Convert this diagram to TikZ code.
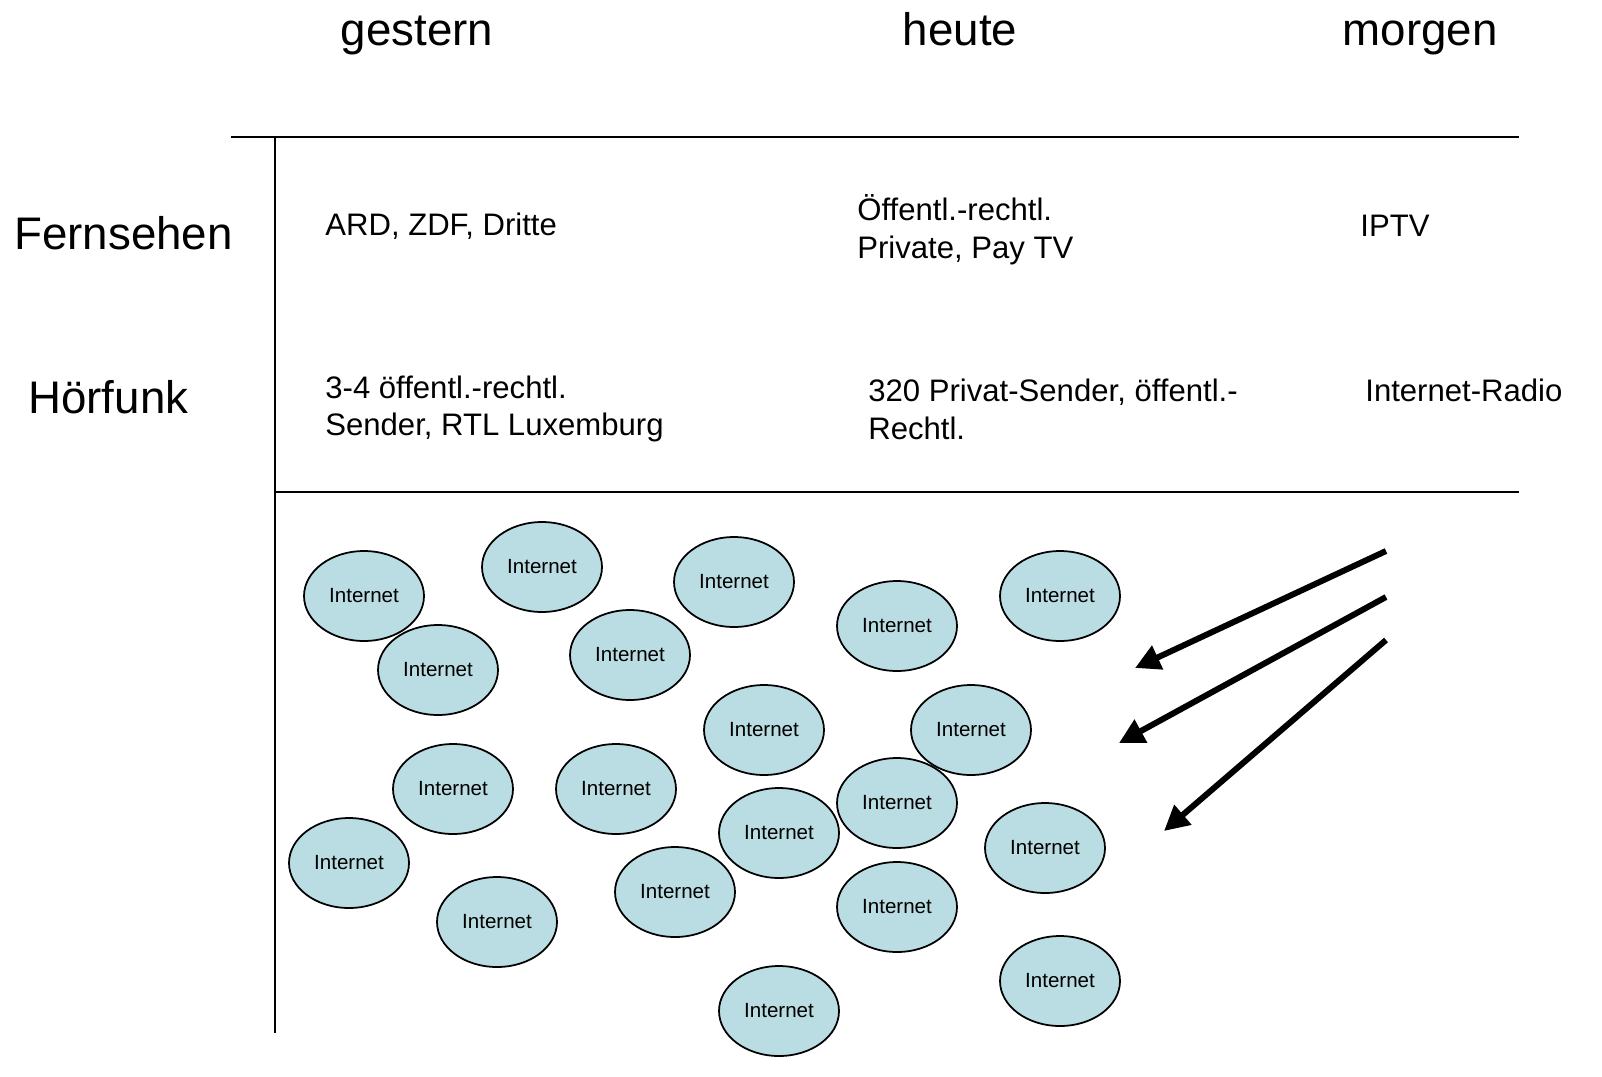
\documentclass[tikz,border=0pt]{standalone}
\usepackage{fontspec}
\setmainfont{Liberation Sans}
\usetikzlibrary{shapes.geometric, arrows.meta, positioning}
\definecolor{netblue}{HTML}{BADDE3}

\begin{document}
\begin{tikzpicture}[ x=0.02cm, y=-0.02cm, net/.style={ellipse, draw=black,
      fill=netblue, line width=1pt, minimum width=2.4cm, minimum height=1.8cm,
      inner sep=0pt, font=\fontsize{11.7pt}{14pt}\selectfont},
      head/.style={font=\fontsize{26pt}{30pt}\selectfont, inner sep=0pt},
      entry/.style={font=\fontsize{17.7pt}{21.5pt}\selectfont, anchor=west,
      align=left, inner sep=0pt}, grid/.style={line width=1.1pt, black},
      push/.style={line width=3.4pt, -{Triangle[length=0.5cm, width=0.5cm]}} ]

    \useasboundingbox (0,0) rectangle (1602,1076);

    % Column heads
    \node[head, anchor=base] (gestern) at (417,45) {gestern}; \node[head,
    anchor=base] (heute) at (960,45) {heute}; \node[head, anchor=base]
    (morgen) at (1420,45) {morgen};

    % Row heads
    \node[head, anchor=west] (tv) at (14,233) {Fernsehen}; \node[head,
    anchor=west] (radio) at (28,397) {Hörfunk};

    % Table lines
    \coordinate (tl) at (231,137); \coordinate (tr) at (1519,137);
    \coordinate (vt) at (275,137); \coordinate (vb) at (275,1033);
    \coordinate (ml) at (275,492); \coordinate (mr) at (1519,492);
    \draw[grid] (tl) -- (tr); \draw[grid] (vt) -- (vb); \draw[grid] (ml) --
    (mr);

    % Entries
    \node[entry] (tvold) at (325,226) {ARD, ZDF, Dritte}; \node[entry] (tvnow)
    at (857,230) {Öffentl.-rechtl.\\Private, Pay TV}; \node[entry] (tvnext) at
    (1360,226) {IPTV};
    \node[entry] (rdold) at (325,409) {3-4 öffentl.-rechtl.\\Sender, RTL
    Luxemburg}; \node[entry] (rdnow) at (868,409) {320 Privat-Sender,
    öffentl.-\\Rechtl.}; \node[entry] (rdnext) at (1365,390) {Internet-Radio};

    % Internet bubbles
    \node[net] (i1) at (364,596) {Internet}; \node[net] (i2) at (542,567)
    {Internet}; \node[net] (i3) at (734,582) {Internet}; \node[net] (i4) at
    (897,626) {Internet}; \node[net] (i5) at (1060,596) {Internet};
    \node[net] (i6) at (438,670) {Internet}; \node[net] (i7) at (630,655)
    {Internet}; \node[net] (i8) at (764,730) {Internet}; \node[net] (i9) at
    (971,730) {Internet}; \node[net] (i10) at (453,789) {Internet};
    \node[net] (i11) at (616,789) {Internet}; \node[net] (i12) at (897,803)
    {Internet}; \node[net] (i13) at (779,833) {Internet}; \node[net] (i14) at
    (349,863) {Internet}; \node[net] (i15) at (1045,848) {Internet};
    \node[net] (i16) at (675,892) {Internet}; \node[net] (i17) at (497,922)
    {Internet}; \node[net] (i18) at (897,907) {Internet}; \node[net] (i19) at
    (1060,981) {Internet}; \node[net] (i20) at (779,1011) {Internet};

    % Arrows
    \coordinate (a1s) at (1386,551); \coordinate (a1e) at (1135,668);
    \coordinate (a2s) at (1386,597); \coordinate (a2e) at (1119,743);
    \coordinate (a3s) at (1386,640); \coordinate (a3e) at (1164,831);
    \draw[push] (a1s) -- (a1e); \draw[push] (a2s) -- (a2e); \draw[push] (a3s)
    -- (a3e);

\end{tikzpicture}
\end{document}
